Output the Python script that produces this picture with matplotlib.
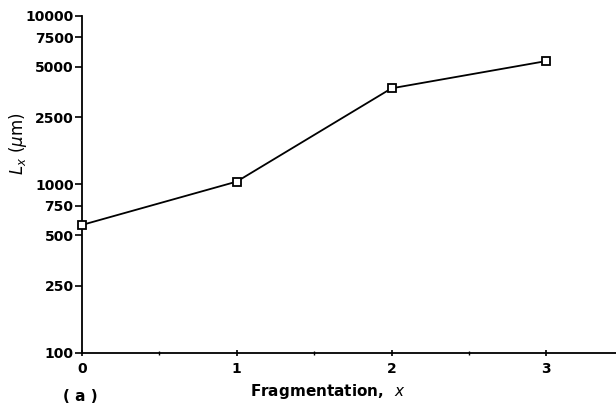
import matplotlib.pyplot as plt
from matplotlib.ticker import FixedLocator, NullLocator, FixedFormatter

# data
fragmentation = [0, 1, 2, 3]
length_um = [575, 1040, 3720, 5400]

y_ticks = [100, 250, 500, 750, 1000, 2500, 5000, 7500, 10000]
x_ticks = [0, 1, 2, 3]
x_minor = [0.5, 1.5, 2.5]

fig = plt.figure(figsize=(6.16, 4.09), dpi=100)
ax = fig.add_axes([0.133, 0.137, 0.867, 0.824])

ax.plot(fragmentation, length_um, color="black", linewidth=1.3,
        marker="s", markersize=6, markerfacecolor="white",
        markeredgecolor="black", markeredgewidth=1.3, clip_on=False, zorder=3)

ax.set_yscale("log")
ax.set_ylim(100, 10000)
ax.set_xlim(0, 3.45)

ax.yaxis.set_major_locator(FixedLocator(y_ticks))
ax.yaxis.set_major_formatter(FixedFormatter([str(t) for t in y_ticks]))
ax.yaxis.set_minor_locator(NullLocator())
ax.xaxis.set_major_locator(FixedLocator(x_ticks))
ax.xaxis.set_minor_locator(FixedLocator(x_minor))

for side in ["top", "right"]:
    ax.spines[side].set_visible(False)
for side in ["left", "bottom"]:
    ax.spines[side].set_linewidth(1.3)

ax.tick_params(axis="y", which="major", direction="out", length=5, width=1.2,
               labelsize=10, pad=1)
ax.tick_params(axis="x", which="major", direction="inout", length=5, width=1.2,
               labelsize=10, pad=4)
ax.tick_params(axis="x", which="minor", direction="inout", length=3, width=1)
for lab in ax.get_xticklabels() + ax.get_yticklabels():
    lab.set_fontweight("bold")

ax.set_ylabel(r"$L_x\ (\mu\mathrm{m})$", fontsize=12)
ax.yaxis.set_label_coords(-0.1, 0.62)
ax.set_xlabel(r"Fragmentation,  $x$", fontsize=11, fontweight="bold", labelpad=-1)
ax.xaxis.set_label_coords(0.46, -0.085)

fig.text(0.13, 0.02, "( a )", fontsize=11, fontweight="bold", ha="center")

fig.savefig("out.png", dpi=100)
